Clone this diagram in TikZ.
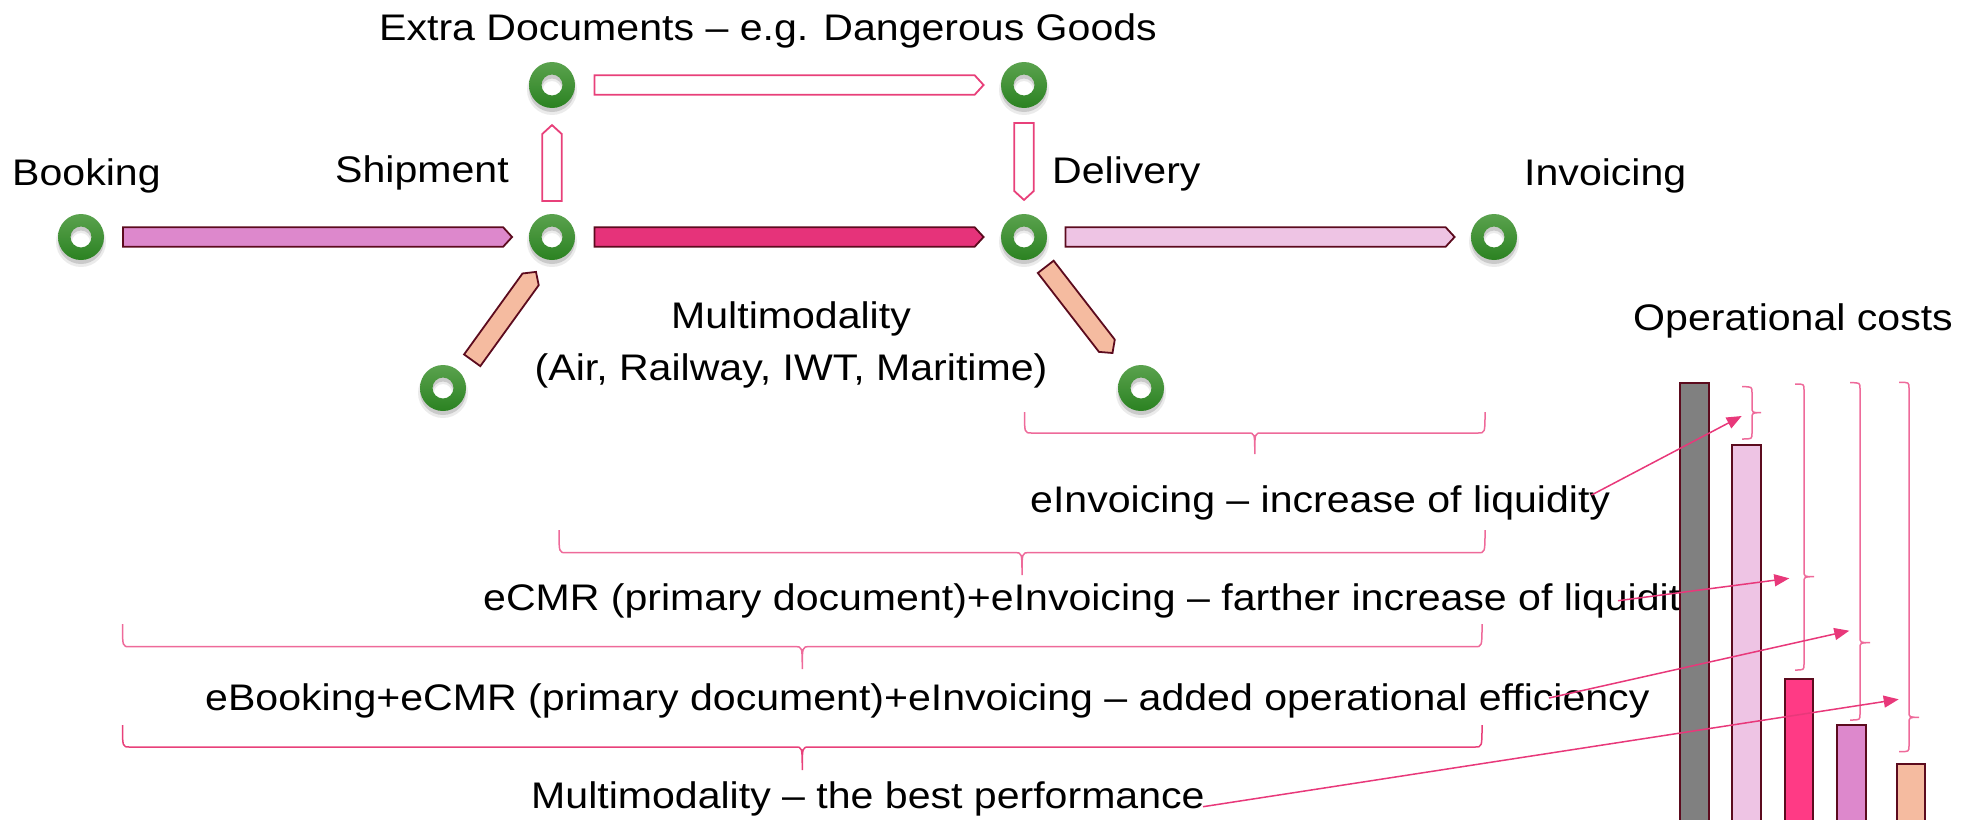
\documentclass[tikz,border=0pt]{standalone}
\usepackage{fontspec}
\setmainfont{Liberation Sans}[FakeStretch=1.11]
\usetikzlibrary{shapes.arrows,arrows.meta,calc}

\definecolor{ringlight}{HTML}{5AA24E}
\definecolor{ringdark}{HTML}{2B8221}
\definecolor{darkrim}{HTML}{5C0B1E}
\definecolor{orchidfill}{HTML}{DD88CC}
\definecolor{crimsonfill}{HTML}{E6337A}
\definecolor{lightpinkfill}{HTML}{EEC4E4}
\definecolor{peachfill}{HTML}{F5BBA0}
\definecolor{hollowpink}{HTML}{E8407A}
\definecolor{greybar}{HTML}{808080}
\definecolor{hotpinkbar}{HTML}{FF3A85}
\definecolor{bracepink}{HTML}{EE6A9A}
\definecolor{arrowpink}{HTML}{E8387A}

% horizontal brace: style, left x, right x, end y, line y, tip y, corner size
\newcommand\myhbrace[7]{%
  \pgfmathsetmacro\bc{(#2+#3)/2}%
  \draw[#1] (#2,#4) .. controls (#2,#5) and (#2,#5) .. (#2+#7,#5) -- (\bc-#7,#5)
  .. controls (\bc,#5) and (\bc,#5) .. (\bc,#6)
  .. controls (\bc,#5) and (\bc,#5) .. (\bc+#7,#5) -- (#3-#7,#5)
  .. controls (#3,#5) and (#3,#5) .. (#3,#4);}
% vertical brace: style, top y, bottom y, end x, line x, tip x, tip y, corner size
\newcommand\myvbrace[8]{%
  \draw[#1] (#4,#2) .. controls (#5,#2) and (#5,#2) .. (#5,#2+#8) -- (#5,#7-#8)
  .. controls (#5,#7) and (#5,#7) .. (#6,#7)
  .. controls (#5,#7) and (#5,#7) .. (#5,#7+#8) -- (#5,#3-#8)
  .. controls (#5,#3) and (#5,#3) .. (#4,#3);}

\begin{document}
\begin{tikzpicture}[x=1pt,y=-1pt,
  font=\fontsize{37}{44}\selectfont,
  ring/.style={circle, minimum size=46pt, inner sep=0pt},
  blk/.style={single arrow, single arrow head extend=0pt, single arrow tip angle=95,
    minimum width=19.5pt, inner sep=0pt, draw=darkrim, line width=1.8pt, sloped, allow upside down},
  hollow/.style={blk, draw=hollowpink, fill=white},
  lbl/.style={inner sep=0pt, text=black},
  brc/.style={draw=bracepink, line width=1.5pt},
  thin/.style={draw=arrowpink, line width=1.5pt, -{Triangle[length=15pt,width=12pt]}},
  bar/.style={draw=darkrim, line width=2pt}
]
\useasboundingbox (0,0) rectangle (1977,819);
\clip (0,0) rectangle (1977,819);

% texts
\node[lbl, anchor=base] (textra) at (768,40) {Extra Documents – e.g. Dangerous Goods};
\node[lbl, anchor=base west] (tbook) at (12,185) {Booking};
\node[lbl, anchor=base west] (tship) at (335,182) {Shipment};
\node[lbl, anchor=base west] (tdeliv) at (1052,183) {Delivery};
\node[lbl, anchor=base west] (tinv) at (1524,185) {Invoicing};
\node[lbl, anchor=base] (tmm1) at (791,328) {Multimodality};
\node[lbl, anchor=base] (tmm2) at (791,380) {(Air, Railway, IWT, Maritime)};
\node[lbl, anchor=base west] (tops) at (1633,330) {Operational costs};
\node[lbl, anchor=base west] (t1) at (1030,512) {eInvoicing – increase of liquidity};
\node[lbl, anchor=base west] (t2) at (483,610) {eCMR (primary document)+eInvoicing – farther increase of liquidity};
\node[lbl, anchor=base west] (t3) at (205,710) {eBooking+eCMR (primary document)+eInvoicing – added operational efficiency};
\node[lbl, anchor=base west] (t4) at (531,808) {Multimodality – the best performance};

% rings
\node[ring] (book) at (81,237) {};
\node[ring] (ship) at (552,237) {};
\node[ring] (xl) at (552,85) {};
\node[ring] (ll) at (443,388) {};
\node[ring] (xr) at (1024,85) {};
\node[ring] (deliv) at (1024,237) {};
\node[ring] (lr) at (1141,388) {};
\node[ring] (inv) at (1494,237) {};
\foreach \n in {book,ship,xl,ll,xr,deliv,lr,inv}{
  \fill[black, opacity=0.08, even odd rule] ($(\n.center)+(0,5)$) circle[radius=25pt] ($(\n.center)+(0,5)$) circle[radius=9pt];
  \fill[black, opacity=0.14, even odd rule] ($(\n.center)+(0,4)$) circle[radius=23pt] ($(\n.center)+(0,4)$) circle[radius=10.5pt];
  \shade[top color=ringlight, bottom color=ringdark, even odd rule] (\n.center) circle[radius=23pt] (\n.center) circle[radius=10.5pt];
}

% block arrows
\path (book) -- node[blk, pos=0.492, fill=orchidfill, minimum height=389pt] {} (ship);
\path (ship) -- node[blk, pos=0.492, fill=crimsonfill, minimum height=389pt] {} (deliv);
\path (deliv) -- node[blk, pos=0.492, fill=lightpinkfill, minimum height=389pt] {} (inv);
\path (xl) -- node[hollow, pos=0.492, minimum height=389pt] {} (xr);
\path (ship) -- node[hollow, pos=0.438, minimum height=76pt] {} (xl);
\path (xr) -- node[hollow, pos=0.462, minimum height=77pt] {} (deliv);
\path ($(ll.center)+(3.9,7.3)$) -- node[blk, pos=0.5, fill=peachfill, minimum height=109pt, minimum width=20pt] {} ($(ship.center)+(3.9,7.3)$);
\path ($(deliv.center)+(-6.2,-6.2)$) -- node[blk, pos=0.5, fill=peachfill, minimum height=109pt, minimum width=20pt] {} ($(lr.center)+(-6.2,-6.2)$);

% bars
\draw[bar, fill=greybar] (1680,382.7) rectangle (1708.7,830);
\draw[bar, fill=lightpinkfill] (1732.3,445.3) rectangle (1761,830);
\draw[bar, fill=hotpinkbar] (1784.7,679.3) rectangle (1813.3,830);
\draw[bar, fill=orchidfill] (1837.3,725) rectangle (1865.7,830);
\draw[bar, fill=peachfill] (1896.7,764) rectangle (1925.3,830);

% horizontal braces
\myhbrace{brc}{1024.5}{1485}{412}{433}{454}{7}
\myhbrace{brc}{559}{1485}{530}{552.7}{575}{7}
\myhbrace{brc}{122.5}{1482}{624}{646.7}{669}{7}
\myhbrace{brc, draw=hollowpink}{122.5}{1482}{725}{747}{770}{7}

% vertical braces
\myvbrace{brc}{386.7}{439}{1742}{1752}{1761}{412.7}{6}
\myvbrace{brc}{384}{670}{1795}{1804}{1814}{576.7}{6}
\myvbrace{brc}{382.7}{720}{1850}{1860}{1870}{642.7}{6}
\myvbrace{brc}{382.3}{751.7}{1899}{1909}{1919}{717.3}{6}

% thin arrows
\coordinate (a1s) at (1591.5,495); \coordinate (a1e) at (1741.7,416);
\coordinate (a2s) at (1618,600.7); \coordinate (a2e) at (1789.3,578.3);
\coordinate (a3s) at (1549,698); \coordinate (a3e) at (1849.3,630.7);
\coordinate (a4s) at (1203,806.7); \coordinate (a4e) at (1898.7,699.3);
\draw[thin] (a1s) -- (a1e);
\draw[thin] (a2s) -- (a2e);
\draw[thin] (a3s) -- (a3e);
\draw[thin] (a4s) -- (a4e);
\end{tikzpicture}
\end{document}
